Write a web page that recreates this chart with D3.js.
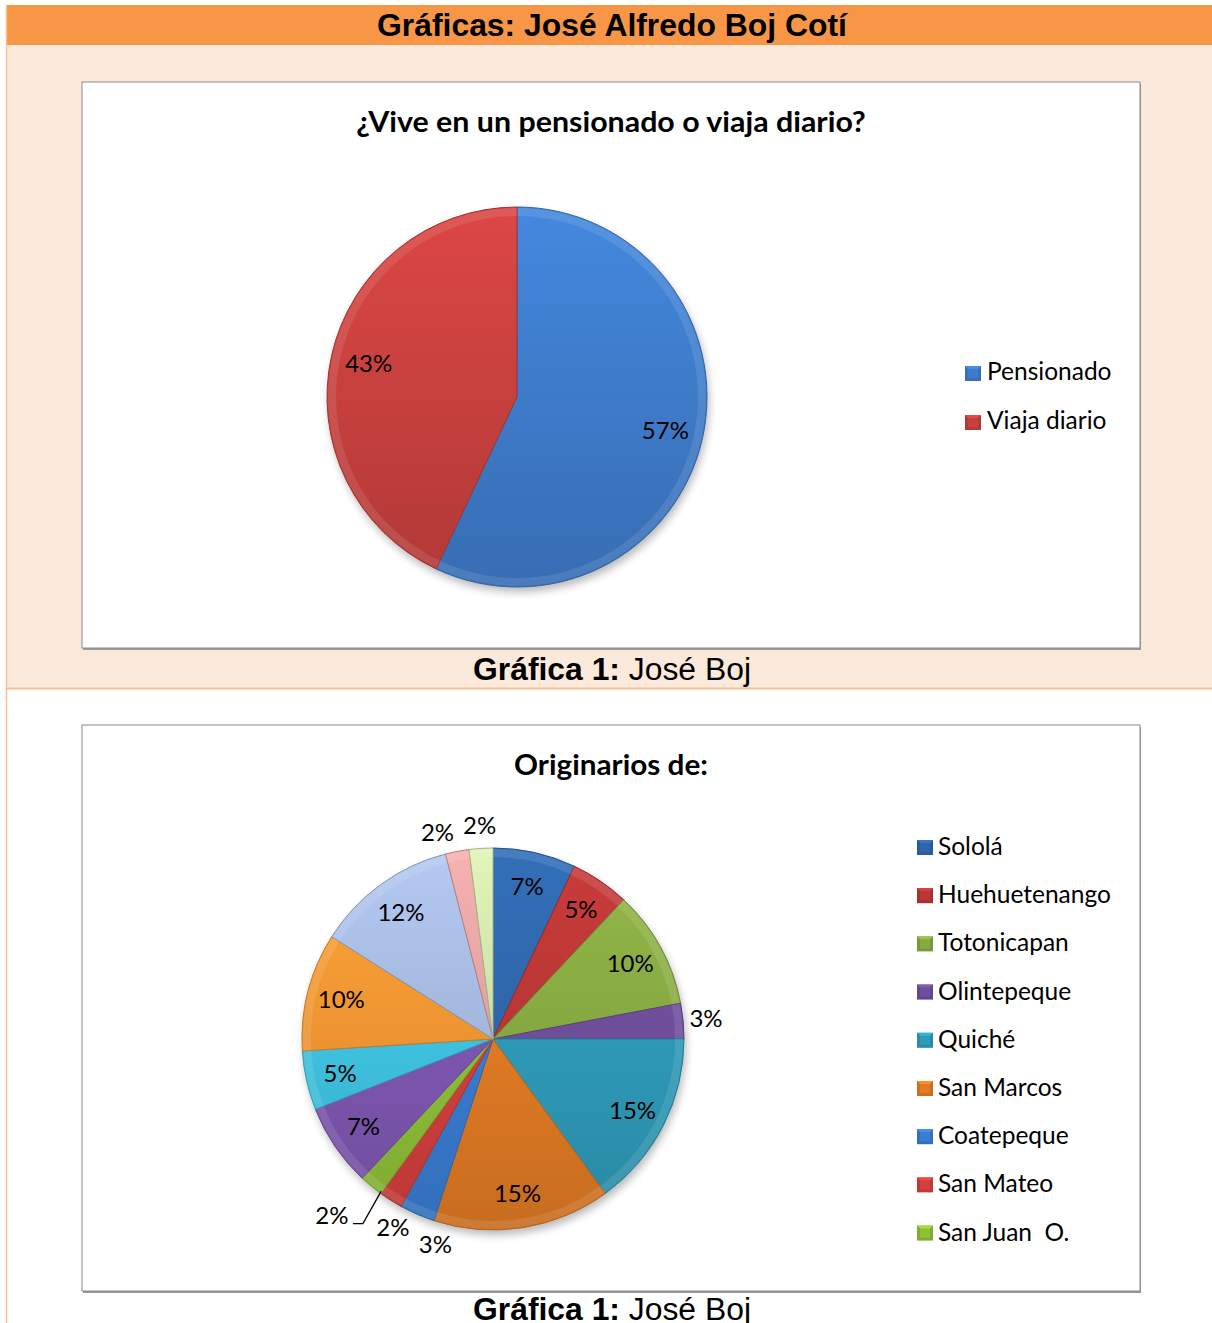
<!DOCTYPE html>
<html><head><meta charset="utf-8">
<script src="https://cdn.jsdelivr.net/npm/d3@7"></script>
<style>body{margin:0;background:#fff}text{white-space:pre}</style></head>
<body><svg id="c" width="1212" height="1323" xmlns="http://www.w3.org/2000/svg"></svg>
<script>
// ---------- data ----------
const pageTitle = "Gráficas: José Alfredo Boj Cotí";
const captionBold = "Gráfica 1:";
const captionRest = " José Boj";

const chart1Title = "¿Vive en un pensionado o viaja diario?";
const chart1Categories = ["Pensionado", "Viaja diario"];
const chart1Values = [57, 43];
const chart1Colors = ["#3E7CCB", "#C8413E"];

const chart2Title = "Originarios de:";
const chart2Legend = ["Sololá", "Huehuetenango", "Totonicapan", "Olintepeque", "Quiché", "San Marcos", "Coatepeque", "San Mateo", "San Juan  O."];
const chart2Values = [7, 5, 10, 3, 15, 15, 3, 2, 2, 7, 5, 10, 12, 2, 2];
const chart2Colors = ["#2F66AA", "#B93735", "#87A942", "#6F4F9B", "#2E9BB9", "#E17B24",
                      "#3A7DD2", "#D3403D", "#8FBF39", "#7E57B1", "#3EC3E1", "#F79632",
                      "#A5B9DE", "#E2A2A2", "#CEE0A9"];

// ---------- helpers ----------
const svg = d3.select("#c");
const defs = svg.append("defs");
const calibri = "Lato, 'Open Sans', sans-serif";
const arial = "'Liberation Sans', Arial, sans-serif";

const shadowF = defs.append("filter").attr("id", "pieShadow").attr("x", "-20%").attr("y", "-20%").attr("width", "140%").attr("height", "140%");
shadowF.append("feGaussianBlur").attr("stdDeviation", 4);

function gradFor(id, color, r) {
  const c = d3.color(color);
  const g = defs.append("linearGradient").attr("id", id)
    .attr("gradientUnits", "userSpaceOnUse")
    .attr("x1", 0).attr("x2", 0).attr("y1", -r).attr("y2", r);
  g.append("stop").attr("offset", "0%").attr("stop-color", c.brighter(0.25));
  g.append("stop").attr("offset", "100%").attr("stop-color", c.darker(0.35));
  return `url(#${id})`;
}

function fitText(sel, target) {
  const w = sel.node().getComputedTextLength();
  const x = +sel.attr("x");
  sel.attr("transform", `translate(${x},0) scale(${target / w},1) translate(${-x},0)`);
}

// ---------- page background ----------
svg.append("rect").attr("x", 6).attr("y", 45).attr("width", 1206).attr("height", 643).attr("fill", "#FBE9DB");
svg.append("rect").attr("x", 6).attr("y", 5).attr("width", 1206).attr("height", 40).attr("fill", "#F79646");
svg.append("line").attr("x1", 6).attr("x2", 1212).attr("y1", 688.5).attr("y2", 688.5).attr("stroke", "#F8BE8C").attr("stroke-width", 2);
svg.append("line").attr("x1", 6.5).attr("x2", 6.5).attr("y1", 5).attr("y2", 1323).attr("stroke", "#F8BE8C").attr("stroke-width", 1.5);

const t0 = svg.append("text").attr("x", 612).attr("y", 36).attr("text-anchor", "middle")
  .attr("font-family", arial).attr("font-weight", "bold").attr("font-size", 31).attr("fill", "#000").text(pageTitle);
fitText(t0, 470);

function caption(y) {
  const t = svg.append("text").attr("x", 612).attr("y", y).attr("text-anchor", "middle")
    .attr("font-family", arial).attr("font-size", 31).attr("fill", "#000");
  t.append("tspan").attr("font-weight", "bold").text(captionBold);
  t.append("tspan").text(captionRest);
  fitText(t, 278);
}

function box(x, y, w, h) {
  svg.append("rect").attr("x", x + 1).attr("y", y + 2).attr("width", w).attr("height", h).attr("fill", "#9a9a9a");
  svg.append("rect").attr("x", x).attr("y", y).attr("width", w).attr("height", h)
    .attr("fill", "#fff").attr("stroke", "#8a8a8a").attr("stroke-width", 1);
}

function legendKey(g, x, y, color) {
  const c = d3.color(color);
  g.append("rect").attr("x", x).attr("y", y).attr("width", 16).attr("height", 15).attr("fill", c.darker(0.3));
  g.append("path").attr("d", `M${x},${y}L${x + 16},${y}L${x + 8},${y + 7.5}Z`).attr("fill", c.brighter(0.4));
  g.append("rect").attr("x", x + 3).attr("y", y + 3).attr("width", 10).attr("height", 9).attr("fill", c);
}

function drawPie(id, cx, cy, r, values, colors, opts) {
  const g = svg.append("g");
  const pie = d3.pie().sort(null).value(d => d)(values);
  const arc = d3.arc().innerRadius(0).outerRadius(r);
  g.append("circle").attr("cx", cx + 2).attr("cy", cy + 5).attr("r", r).attr("fill", "#000").attr("opacity", 0.28).attr("filter", "url(#pieShadow)");
  const pg = g.append("g").attr("transform", `translate(${cx},${cy})`);
  const inner = d3.arc().innerRadius(r - 9).outerRadius(r - 1);
  pie.forEach((p, i) => {
    pg.append("path").attr("d", arc(p)).attr("fill", gradFor(`${id}g${i}`, colors[i], r))
      .attr("stroke", d3.color(colors[i]).darker(0.6)).attr("stroke-width", 1).attr("stroke-linejoin", "round");
    pg.append("path").attr("d", inner(p)).attr("fill", "#fff").attr("opacity", 0.10);
  });
  // label layout
  const ro = r * opts.outR;
  const labels = pie.map((p, i) => {
    const v = values[i];
    const mid = (p.startAngle + p.endAngle) / 2;
    const outside = v < opts.insideMin;
    const rr = outside ? ro : r * opts.inR;
    const x = Math.sin(mid) * rr, y = -Math.cos(mid) * rr;
    return {i, p, v, mid, ang: mid, outside, x, y, nx: x, ny: y, leader: false};
  });
  // runs of consecutive outside labels: the last one of a run of 3+ gets a leader
  let run = [];
  const flush = () => { if (run.length >= 3) run[run.length - 1].leader = true; run = []; };
  labels.forEach(L => { if (L.outside) run.push(L); else flush(); });
  flush();
  labels.filter(L => L.leader).forEach(L => {
    const rr = r * 1.2;
    L.x = Math.sin(L.mid) * rr - 15; L.y = -Math.cos(L.mid) * rr;
  });
  const overlap = (a, b) => Math.abs(a.x - b.nx) < 42 && Math.abs(a.y - b.ny) < 24;
  // resolve collisions counter-clockwise, from the last slice back to the first
  const outs = labels.filter(L => L.outside);
  for (let k = outs.length - 2; k >= 0; k--) {
    const L = outs[k], N = outs[k + 1];
    if (L.leader || N.i !== L.i + 1) continue;
    let n = 0;
    while (overlap(L, N) && n++ < 200) {
      L.ang -= Math.PI / 720;
      L.x = Math.sin(L.ang) * ro; L.y = -Math.cos(L.ang) * ro;
      L.nx = L.x; L.ny = L.y;
    }
  }
  labels.forEach(L => {
    pg.append("text").attr("x", L.x).attr("y", L.y).attr("dy", "0.35em").attr("text-anchor", "middle")
      .attr("font-family", calibri).attr("font-size", 24).attr("fill", "#000").text(L.v + "%");
    if (L.leader) {
      const a = L.p.startAngle + 0.005;
      const ex = Math.sin(a) * r * 0.99, ey = -Math.cos(a) * r * 0.99;
      pg.append("path").attr("d", `M${L.x + 21},${L.y + 8}L${L.x + 31},${L.y + 8}L${ex},${ey}`)
        .attr("fill", "none").attr("stroke", "#000").attr("stroke-width", 1.3);
    }
  });
}

// ---------- chart 1 ----------
box(82, 82, 1058, 566);
const ct1 = svg.append("text").attr("x", 611).attr("y", 132).attr("text-anchor", "middle")
  .attr("font-family", calibri).attr("font-weight", "bold").attr("font-size", 28).text(chart1Title);
fitText(ct1, 510);
drawPie("p1", 517, 397, 190, chart1Values, chart1Colors, {insideMin: 4, inR: 0.8, outR: 1.12});
const lg1 = svg.append("g");
chart1Categories.forEach((c, i) => {
  legendKey(lg1, 965, 366 + i * 49, chart1Colors[i]);
  lg1.append("text").attr("x", 987).attr("y", 380 + i * 49).attr("font-family", calibri).attr("font-size", 24.5).text(c);
});
caption(680);

// ---------- chart 2 ----------
box(82, 725, 1058, 566);
const ct2 = svg.append("text").attr("x", 611).attr("y", 775).attr("text-anchor", "middle")
  .attr("font-family", calibri).attr("font-weight", "bold").attr("font-size", 28).text(chart2Title);
fitText(ct2, 194);
drawPie("p2", 493, 1039, 191, chart2Values, chart2Colors, {insideMin: 4, inR: 0.82, outR: 1.12});
const lg2 = svg.append("g");
chart2Legend.forEach((c, i) => {
  legendKey(lg2, 917, 840 + i * 48.2, chart2Colors[i]);
  lg2.append("text").attr("x", 938).attr("y", 855 + i * 48.2).attr("font-family", calibri).attr("font-size", 24.5).text(c);
});
caption(1320);
</script></body></html>
